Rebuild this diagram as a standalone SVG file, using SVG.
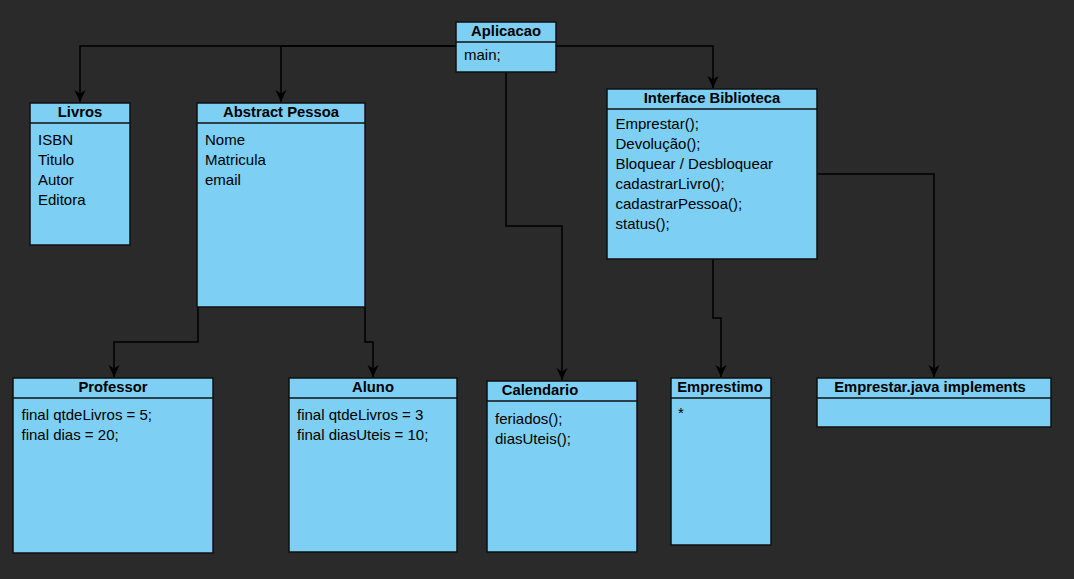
<svg xmlns="http://www.w3.org/2000/svg" width="1074" height="579" viewBox="0 0 1074 579">
<style>
.box{fill:#7dcff3;stroke:#111;stroke-width:1.5}
.div{stroke:#111;stroke-width:1.5}
.title{font-family:"Liberation Sans",Arial,sans-serif;font-weight:bold;font-size:14.8px;fill:#000;text-anchor:middle}
.body{font-family:"Liberation Sans",Arial,sans-serif;font-size:15px;fill:#000}
.conn{fill:none;stroke:#000;stroke-width:1.5}
</style>
<defs>
<marker id="arr" markerUnits="userSpaceOnUse" markerWidth="13" markerHeight="13" viewBox="0 0 13 13" refX="12" refY="6.5" orient="auto">
<path d="M0,1 L12,6.5 L0,12 L3.5,6.5 z" fill="#000"/>
</marker>
</defs>
<rect width="1074" height="579" fill="#2a2a2a"/>
<g id="connectors">
<path class="conn" d="M456,46 H80 V102" marker-end="url(#arr)"/>
<path class="conn" d="M456,46 H281 V102" marker-end="url(#arr)"/>
<path class="conn" d="M556,46 H713 V88" marker-end="url(#arr)"/>
<path class="conn" d="M506,72 V226 H562 V380" marker-end="url(#arr)"/>
<path class="conn" d="M713,259 V318 H721 V377" marker-end="url(#arr)"/>
<path class="conn" d="M817,174 H934 V377" marker-end="url(#arr)"/>
<path class="conn" d="M198,307 V342 H114 V377" marker-end="url(#arr)"/>
<path class="conn" d="M365,307 V342 H373 V377" marker-end="url(#arr)"/>
</g>
<g id="aplicacao">
<rect class="box" x="456" y="22" width="100" height="50"/>
<line class="div" x1="456" y1="42" x2="556" y2="42"/>
<text class="title" x="506" y="36">Aplicacao</text>
<text class="body" x="464" y="60">main;</text>
</g>
<g id="livros">
<rect class="box" x="30" y="103" width="100" height="142"/>
<line class="div" x1="30" y1="123" x2="130" y2="123"/>
<text class="title" x="80" y="117">Livros</text>
<text class="body" x="38" y="145">ISBN</text>
<text class="body" x="38" y="165">Titulo</text>
<text class="body" x="38" y="185">Autor</text>
<text class="body" x="38" y="205">Editora</text>
</g>
<g id="abstract-pessoa">
<rect class="box" x="197" y="103" width="168" height="204"/>
<line class="div" x1="197" y1="123" x2="365" y2="123"/>
<text class="title" x="281" y="117">Abstract Pessoa</text>
<text class="body" x="205" y="145">Nome</text>
<text class="body" x="205" y="165">Matricula</text>
<text class="body" x="205" y="185">email</text>
</g>
<g id="interface-biblioteca">
<rect class="box" x="607" y="89" width="210" height="170"/>
<line class="div" x1="607" y1="109" x2="817" y2="109"/>
<text class="title" x="712" y="103">Interface Biblioteca</text>
<text class="body" x="615.5" y="129">Emprestar();</text>
<text class="body" x="615.5" y="149">Devolução();</text>
<text class="body" x="615.5" y="169">Bloquear / Desbloquear</text>
<text class="body" x="615.5" y="189">cadastrarLivro();</text>
<text class="body" x="615.5" y="209">cadastrarPessoa();</text>
<text class="body" x="615.5" y="229">status();</text>
</g>
<g id="professor">
<rect class="box" x="13" y="378" width="200" height="175"/>
<line class="div" x1="13" y1="398" x2="213" y2="398"/>
<text class="title" x="113" y="392">Professor</text>
<text class="body" x="21.5" y="420">final qtdeLivros = 5;</text>
<text class="body" x="21.5" y="440">final dias = 20;</text>
</g>
<g id="aluno">
<rect class="box" x="289" y="378" width="168" height="174"/>
<line class="div" x1="289" y1="398" x2="457" y2="398"/>
<text class="title" x="373" y="392">Aluno</text>
<text class="body" x="297" y="420">final qtdeLivros = 3</text>
<text class="body" x="297" y="440">final diasUteis = 10;</text>
</g>
<g id="calendario">
<rect class="box" x="487" y="381" width="150" height="171"/>
<line class="div" x1="487" y1="401" x2="637" y2="401"/>
<text class="title" x="540" y="395">Calendario</text>
<text class="body" x="495" y="424">feriados();</text>
<text class="body" x="495" y="444">diasUteis();</text>
</g>
<g id="emprestimo">
<rect class="box" x="671" y="378" width="100" height="167"/>
<line class="div" x1="671" y1="398" x2="771" y2="398"/>
<text class="title" x="720" y="392">Emprestimo</text>
<text class="body" x="678" y="418">*</text>
</g>
<g id="emprestar-java">
<rect class="box" x="817" y="378" width="234" height="49"/>
<line class="div" x1="817" y1="398" x2="1051" y2="398"/>
<text class="title" x="930" y="392">Emprestar.java implements</text>
</g>
</svg>
